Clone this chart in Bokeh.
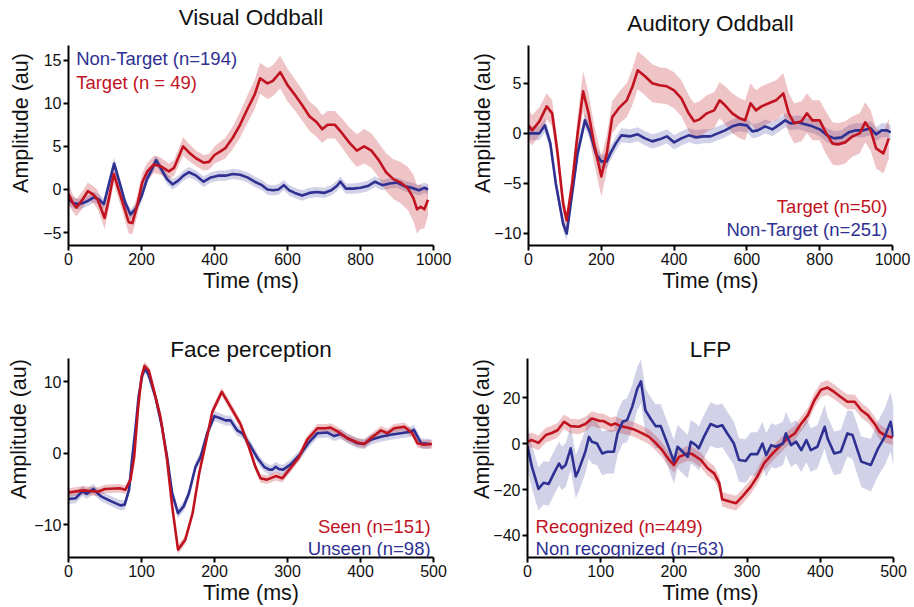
import numpy as np
from bokeh.plotting import figure
from bokeh.layouts import column, row
from bokeh.models import Range1d, FixedTicker, Label, CustomJSTickFormatter
from bokeh.embed import file_html
from bokeh.resources import INLINE

RED = "#c1121f"
BLUE = "#2e3192"
FONT = "Liberation Sans"

# ---------------- Visual Oddball ----------------
vo_target_t = [0, 12, 22, 38, 53, 68, 80, 99, 112, 124, 143, 165, 175, 188, 202, 216, 234, 252, 275, 289,
               314, 330, 350, 370, 385, 400, 415, 430, 450, 470, 490, 510, 525, 545, 560, 580, 600, 620, 640, 660,
               680, 695, 710, 730, 750, 770, 790, 810, 830, 850, 870, 890, 910, 930, 945, 955, 965, 975, 985]
vo_target_y = [-0.5, -1.6, -2.1, -1.2, -0.2, -0.6, -1.2, -3.3, -0.8, 1.8, -0.8, -3.8, -3.9, -1.9, 0.8, 2.1, 2.9, 2.7, 2.1, 2.5,
               5.0, 4.3, 3.6, 3.1, 3.2, 4.0, 4.4, 4.8, 6.0, 7.5, 9.3, 11.0, 12.9, 12.3, 12.6, 13.6, 12.1, 11.0, 9.8, 8.5,
               7.8, 7.0, 7.5, 7.5, 6.5, 5.4, 4.5, 5.0, 4.5, 3.4, 2.0, 1.2, 0.8, 0.1, -1.0, -2.3, -2.0, -2.3, -1.2]
vo_target_sem = [1.2, 1.0, 1.0, 1.0, 1.0, 1.0, 1.1, 1.3, 1.2, 1.1, 1.1, 1.3, 1.3, 1.2, 1.1, 1.0, 1.0, 1.0, 0.9, 0.9,
                 1.1, 1.0, 0.9, 0.9, 0.9, 1.0, 1.1, 1.2, 1.3, 1.5, 1.6, 1.7, 1.8, 1.8, 1.8, 1.9, 1.9, 1.8, 1.8, 1.7,
                 1.7, 1.6, 1.6, 1.6, 1.7, 1.8, 1.9, 2.0, 2.0, 2.0, 2.2, 2.3, 2.4, 2.5, 2.7, 2.8, 2.6, 2.2, 1.8]

vo_nontarget_t = [0, 15, 30, 50, 70, 85, 97, 110, 125, 140, 155, 170, 185, 200, 215, 228, 240, 255, 270, 285,
                  300, 315, 330, 350, 370, 390, 410, 430, 450, 470, 490, 510, 530, 545, 560, 575, 590, 605, 620, 640,
                  660, 680, 700, 720, 735, 745, 760, 780, 800, 820, 840, 860, 880, 900, 920, 940, 960, 975, 985]
vo_nontarget_y = [-1.2, -1.6, -1.7, -1.4, -0.9, -1.2, -1.7, 0.5, 3.0, 0.8, -1.5, -2.9, -2.2, -0.8, 1.2, 2.3, 3.4, 2.3, 1.2, 0.6,
                  1.0, 1.6, 2.0, 1.6, 0.9, 1.4, 1.6, 1.6, 1.8, 1.7, 1.4, 0.9, 0.5, 0.0, -0.1, 0.0, 0.5, -0.1, -0.4, -0.7,
                  -0.4, -0.3, -0.4, -0.1, 0.4, 0.9, 0.1, 0.1, 0.2, 0.4, 0.9, 0.5, 0.7, 0.8, 0.4, 0.2, -0.1, 0.2, 0.0]
vo_nontarget_sem = [0.7, 0.6, 0.6, 0.6, 0.6, 0.6, 0.6, 0.6, 0.7, 0.6, 0.6, 0.6, 0.6, 0.6, 0.6, 0.6, 0.6, 0.6, 0.6, 0.6,
                    0.6, 0.6, 0.6, 0.6, 0.6, 0.6, 0.6, 0.6, 0.6, 0.6, 0.6, 0.6, 0.6, 0.6, 0.6, 0.6, 0.6, 0.6, 0.6, 0.6,
                    0.6, 0.6, 0.6, 0.6, 0.6, 0.6, 0.6, 0.6, 0.6, 0.6, 0.6, 0.6, 0.6, 0.6, 0.6, 0.6, 0.6, 0.6, 0.6]

# ---------------- Auditory Oddball ----------------
ao_target_t = [0, 10, 30, 50, 65, 80, 95, 105, 120, 135, 150, 165, 180, 200, 215, 230, 250, 270, 285, 300,
               320, 340, 360, 380, 400, 420, 440, 455, 470, 490, 510, 525, 540, 560, 580, 595, 610, 625, 640, 660,
               680, 700, 715, 730, 750, 765, 780, 800, 815, 835, 850, 870, 890, 910, 925, 940, 955, 975, 990]
ao_target_y = [0.8, 0.3, 1.2, 2.7, 2.0, -2.0, -7.0, -8.7, -5.0, 0.0, 4.2, 2.0, -1.0, -4.3, -2.0, 1.6, 2.6, 3.3, 4.6, 6.3,
               5.7, 5.0, 4.8, 4.7, 4.3, 3.5, 2.0, 1.2, 1.4, 2.0, 2.3, 3.3, 2.8, 2.0, 1.5, 1.3, 3.0, 2.3, 2.7, 3.0,
               3.3, 4.0, 2.0, 1.0, 1.2, 2.0, 1.3, 1.3, 0.2, -1.0, -1.1, -0.9, -0.3, 0.0, 1.1, 0.3, -1.5, -2.0, -0.5]
ao_target_sem = [1.6, 1.5, 1.4, 1.3, 1.3, 1.2, 1.0, 0.9, 1.2, 1.6, 2.0, 2.0, 1.9, 2.0, 1.8, 1.6, 1.6, 1.7, 1.8, 1.9,
                 1.9, 1.9, 1.8, 1.8, 1.8, 1.8, 1.8, 1.8, 1.8, 1.8, 1.8, 1.8, 1.9, 2.0, 2.0, 2.0, 2.0, 2.0, 2.0, 2.0,
                 2.0, 2.0, 2.0, 2.0, 2.0, 2.0, 2.0, 2.0, 2.1, 2.1, 2.1, 2.1, 2.0, 2.0, 2.0, 2.0, 2.0, 2.0, 2.0]

ao_nontarget_t = [0, 30, 45, 60, 75, 95, 105, 120, 135, 155, 170, 185, 200, 215, 225, 240, 255, 280, 300, 320,
                  340, 360, 380, 400, 420, 440, 460, 480, 500, 520, 540, 560, 580, 600, 615, 630, 650, 670, 690, 705,
                  720, 740, 760, 780, 800, 820, 840, 860, 880, 900, 920, 940, 955, 970, 985, 995]
ao_nontarget_y = [0.0, 0.0, 0.8, -1.0, -5.0, -9.0, -10.0, -6.0, -2.0, 1.3, 0.0, -2.0, -2.8, -2.8, -2.0, -1.0, -0.2, -0.3, -0.1, -0.5,
                  -0.8, -0.6, -0.3, -0.9, -0.5, -0.2, -0.4, -0.3, -0.3, 0.0, 0.3, 0.7, 0.9, 0.8, 0.2, 0.3, 0.7, 0.4, 0.9, 1.3,
                  1.0, 1.1, 0.9, 0.7, 0.4, -0.2, -0.5, -0.4, 0.1, 0.3, 0.3, 0.5, -0.1, 0.3, 0.3, 0.1]
ao_nontarget_sem = [0.7, 0.7, 0.7, 0.7, 0.7, 0.7, 0.7, 0.7, 0.7, 0.7, 0.7, 0.7, 0.7, 0.7, 0.7, 0.7, 0.7, 0.7, 0.7, 0.7,
                    0.7, 0.7, 0.7, 0.7, 0.7, 0.7, 0.7, 0.7, 0.7, 0.7, 0.7, 0.7, 0.7, 0.7, 0.7, 0.7, 0.7, 0.7, 0.7, 0.7,
                    0.7, 0.7, 0.7, 0.7, 0.7, 0.7, 0.7, 0.7, 0.7, 0.7, 0.7, 0.7, 0.7, 0.7, 0.7, 0.7]

# ---------------- Face perception ----------------
fp_seen_t = [0, 20, 40, 50, 70, 78, 85, 90, 95, 100, 104, 110, 117, 126, 135, 142, 150, 160, 170, 179,
             188, 197, 210, 222, 236, 247, 256, 263, 272, 284, 293, 304, 316, 327, 341, 352, 359, 368, 382, 396,
             405, 414, 428, 437, 446, 460, 471, 478, 487, 498]
fp_seen_y = [-5.5, -5.2, -5.4, -5.0, -4.9, -5.1, -3.7, -0.5, 6.0, 10.7, 12.2, 11.6, 8.8, 5.1, -0.9, -7.4, -13.5, -12.1, -8.4, -2.8,
             1.4, 5.8, 8.6, 6.5, 4.0, 0.9, -1.9, -3.5, -3.7, -3.2, -3.5, -2.1, -0.5, 1.9, 3.5, 3.5, 3.6, 3.1, 2.1, 1.5,
             1.3, 2.1, 3.2, 2.8, 3.5, 3.7, 2.8, 1.4, 1.2, 1.3]
fp_seen_sem = [0.6, 0.6, 0.6, 0.6, 0.6, 0.6, 0.6, 0.6, 0.6, 0.6, 0.6, 0.6, 0.6, 0.6, 0.6, 0.6, 0.6, 0.6, 0.6, 0.6,
               0.6, 0.6, 0.6, 0.6, 0.6, 0.6, 0.6, 0.6, 0.6, 0.6, 0.6, 0.6, 0.6, 0.6, 0.6, 0.6, 0.6, 0.6, 0.6, 0.6,
               0.6, 0.6, 0.6, 0.6, 0.6, 0.6, 0.6, 0.6, 0.6, 0.6]

fp_unseen_t = [0, 10, 19, 25, 34, 44, 58, 71, 77, 83, 87, 92, 96, 101, 105, 110, 119, 128, 135, 142,
               150, 158, 165, 174, 181, 190, 200, 208, 215, 222, 231, 238, 250, 259, 268, 275, 279, 284, 288, 294,
               304, 318, 330, 341, 355, 364, 373, 382, 396, 405, 414, 428, 441, 455, 469, 473, 483, 496]
fp_unseen_y = [-6.4, -6.3, -5.3, -5.7, -5.0, -6.0, -6.7, -7.3, -7.2, -5.1, -0.9, 3.7, 7.9, 10.9, 11.9, 10.9, 7.9, 3.7, -0.5, -5.6,
               -8.4, -7.4, -5.6, -1.9, -0.5, 2.8, 5.2, 4.9, 4.6, 4.6, 3.2, 2.8, 0.9, -0.7, -1.9, -2.3, -2.3, -1.9, -2.2, -2.3,
               -1.6, -0.1, 1.6, 2.8, 2.9, 2.4, 2.7, 2.1, 1.4, 1.3, 1.9, 2.3, 2.6, 2.8, 3.0, 3.3, 1.4, 1.3]
fp_unseen_sem = [0.7, 0.7, 0.7, 0.7, 0.7, 0.7, 0.7, 0.7, 0.7, 0.7, 0.7, 0.7, 0.7, 0.7, 0.7, 0.7, 0.7, 0.7, 0.7, 0.7,
                 0.7, 0.7, 0.7, 0.7, 0.7, 0.7, 0.7, 0.7, 0.7, 0.7, 0.7, 0.7, 0.7, 0.7, 0.7, 0.7, 0.7, 0.7, 0.7, 0.7,
                 0.7, 0.7, 0.7, 0.7, 0.7, 0.7, 0.7, 0.7, 0.7, 0.7, 0.7, 0.7, 0.7, 0.7, 0.7, 0.7, 0.7, 0.7]

# ---------------- LFP ----------------
lfp_rec_t = [0, 6, 15, 25, 34, 41, 50, 59, 70, 79, 88, 98, 104, 114, 120, 127, 136, 146, 157, 166,
             175, 184, 193, 200, 207, 219, 225, 237, 246, 255, 262, 266, 276, 285, 294, 305, 314, 323, 335, 346,
             355, 365, 374, 383, 392, 401, 410, 419, 428, 437, 447, 456, 465, 474, 481, 488, 495, 499]
lfp_rec_y = [1.0, 1.6, 0.4, 3.8, 4.8, 5.9, 9.6, 7.7, 7.4, 8.6, 11.0, 10.0, 9.9, 8.1, 8.8, 7.7, 7.1, 6.2, 4.5, 3.0,
             0.4, -2.8, -6.8, -9.3, -5.7, -4.2, -4.5, -7.1, -10.7, -12.9, -17.2, -24.2, -25.2, -25.9, -22.8, -18.7, -14.3, -8.6, -4.2, -0.6,
             2.3, 4.5, 8.8, 12.5, 19.0, 23.6, 24.5, 22.6, 20.4, 18.3, 18.3, 14.6, 12.5, 8.8, 5.2, 3.8, 3.0, 2.8]
lfp_rec_sem = [3.2, 3.2, 3.2, 3.2, 3.2, 3.2, 3.2, 3.2, 3.2, 3.2, 3.2, 3.2, 3.2, 3.2, 3.2, 3.2, 3.2, 3.2, 3.2, 3.2,
               3.2, 3.2, 3.2, 3.2, 3.2, 3.2, 3.2, 3.2, 3.2, 3.2, 3.2, 3.2, 3.2, 3.2, 3.2, 3.2, 3.2, 3.2, 3.2, 3.2,
               3.2, 3.2, 3.2, 3.2, 3.2, 3.2, 3.2, 3.2, 3.2, 3.2, 3.2, 3.2, 3.2, 3.2, 3.2, 3.2, 3.2, 3.2]

lfp_nonrec_t = [0, 6, 15, 22, 29, 36, 43, 47, 52, 59, 66, 70, 79, 84, 88, 95, 102, 109, 118, 123,
                130, 136, 143, 150, 155, 161, 168, 175, 182, 191, 200, 205, 212, 219, 223, 230, 234, 241, 250, 259,
                266, 273, 282, 289, 298, 305, 314, 321, 326, 333, 339, 349, 353, 360, 367, 374, 381, 387, 396, 406,
                410, 419, 428, 437, 444, 456, 469, 479, 488, 496, 500]
lfp_nonrec_y = [-1.0, -10.0, -19.7, -17.0, -17.5, -12.9, -8.6, -10.7, -9.3, -2.0, -14.3, -11.4, -3.5, 3.0, 0.9, 0.1, -4.2, -3.5, -3.5, 4.5,
                9.6, 10.3, 16.1, 24.0, 27.2, 14.6, 11.0, 7.7, 7.7, 0.1, -7.8, -1.3, -3.5, -5.7, 0.9, -0.6, -2.0, 3.0, 8.6, 7.4,
                8.1, 4.5, 0.1, -7.1, -7.5, -4.5, -4.5, 0.1, -4.9, -0.6, -1.3, 0.1, 4.5, -0.6, 0.9, -2.8, 1.6, -2.8, -1.3, 7.4,
                2.3, -4.2, -3.5, 4.5, 3.8, -7.8, -9.3, -2.0, 3.0, 9.6, 3.0]
lfp_nonrec_sem = [10.0, 9.5, 9.5, 9.5, 9.5, 9.5, 9.5, 9.5, 9.5, 9.5, 9.5, 9.5, 9.5, 9.5, 9.5, 9.5, 9.5, 9.5, 9.5, 9.5,
                  9.5, 9.5, 9.5, 9.5, 9.5, 9.5, 9.5, 9.5, 9.5, 9.5, 9.5, 9.5, 9.5, 9.5, 9.5, 9.5, 9.5, 9.5, 9.5, 9.5,
                  9.5, 9.5, 9.5, 9.5, 9.5, 9.5, 9.5, 9.5, 9.5, 9.5, 9.5, 9.5, 9.5, 9.5, 9.5, 9.5, 9.5, 9.5, 9.5, 9.5,
                  9.5, 9.5, 9.5, 10.0, 10.5, 11.0, 11.5, 12.0, 12.5, 13.0, 13.0]

TICK_FMT = CustomJSTickFormatter(code="return tick < 0 ? '\\u2212' + Math.abs(tick) : String(tick);")


def make_panel(w, h, xr, yr, ybounds, xticks, yticks, bl, br, bb, ylab_standoff):
    # the frame runs to the top edge; the y spine is limited to the data bounds,
    # so the panel title can sit inside the frame above the spine
    p = figure(width=w, height=h, x_range=Range1d(*xr), y_range=Range1d(*yr),
               output_backend="svg", toolbar_location=None,
               min_border_left=bl, min_border_right=br, min_border_top=0, min_border_bottom=bb)
    p.outline_line_color = None
    p.grid.visible = False
    p.background_fill_color = "white"
    p.border_fill_color = "white"
    for ax in (p.xaxis[0], p.yaxis[0]):
        ax.axis_line_width = 2
        ax.axis_line_color = "black"
        ax.major_tick_line_width = 2
        ax.major_tick_line_color = "black"
        ax.major_tick_out = 5
        ax.major_tick_in = 0
        ax.minor_tick_line_color = None
        ax.major_label_text_font = FONT
        ax.major_label_text_font_size = "16px"
        ax.major_label_text_color = "#111111"
        ax.major_label_standoff = 2
        ax.axis_label_text_font = FONT
        ax.axis_label_text_font_size = "21.5px"
        ax.axis_label_text_font_style = "normal"
        ax.axis_label_text_color = "#111111"
        ax.formatter = TICK_FMT
    p.xaxis[0].ticker = FixedTicker(ticks=xticks)
    p.yaxis[0].ticker = FixedTicker(ticks=yticks)
    p.yaxis[0].bounds = ybounds
    p.xaxis[0].axis_label = "Time (ms)"
    p.yaxis[0].axis_label = "Amplitude (au)"
    p.xaxis[0].axis_label_standoff = 1
    p.yaxis[0].axis_label_standoff = ylab_standoff
    return p


def add_title(p, x, y, text):
    p.add_layout(Label(x=x, y=y, text=text, text_color="#111111", text_font=FONT,
                       text_font_size="22.5px", text_align="center", text_baseline="middle"))


def add_series(p, t, y, sem, color, alpha):
    t = np.asarray(t, float)
    y = np.asarray(y, float)
    s = np.asarray(sem, float)
    p.varea(x=t, y1=y - s, y2=y + s, fill_color=color, fill_alpha=alpha)
    return t, y


def add_line(p, t, y, color):
    p.line(x=t, y=y, line_color=color, line_width=2.6, line_join="round")


def add_text(p, x, y, text, color, align):
    p.add_layout(Label(x=x, y=y, text=text, text_color=color, text_font=FONT,
                       text_font_size="18.5px", text_align=align, text_baseline="middle"))


# Panel 1
p1 = make_panel(457, 300, (0, 1000), (-6.5, 21.92), (-6.5, 16.7), [0, 200, 400, 600, 800, 1000],
                [-5, 0, 5, 10, 15], 68, 24, 54, 7)
add_title(p1, 500, 19.94, "Visual Oddball")
a = add_series(p1, vo_nontarget_t, vo_nontarget_y, vo_nontarget_sem, BLUE, 0.22)
b = add_series(p1, vo_target_t, vo_target_y, vo_target_sem, RED, 0.25)
add_line(p1, *a, BLUE)
add_line(p1, *b, RED)
add_text(p1, 21, 15.25, "Non-Target (n=194)", BLUE, "left")
add_text(p1, 21, 12.44, "Target (n = 49)", RED, "left")

# Panel 2
p2 = make_panel(457, 300, (0, 1000), (-11.2, 13.27), (-11.2, 8.8), [0, 200, 400, 600, 800, 1000],
                [-10, -5, 0, 5], 71, 22, 55, -4)
add_title(p2, 500, 10.97, "Auditory Oddball")
a = add_series(p2, ao_nontarget_t, ao_nontarget_y, ao_nontarget_sem, BLUE, 0.22)
b = add_series(p2, ao_target_t, ao_target_y, ao_target_sem, RED, 0.25)
add_line(p2, *a, BLUE)
add_line(p2, *b, RED)
add_text(p2, 986, -7.3, "Target (n=50)", RED, "right")
add_text(p2, 986, -9.58, "Non-Target (n=251)", BLUE, "right")

# Panel 3
p3 = make_panel(457, 307, (0, 500), (-14.6, 21.39), (-14.6, 13.3), [0, 100, 200, 300, 400, 500],
                [-10, 0, 10], 68, 24, 49, 0)
add_title(p3, 250, 14.53, "Face perception")
a = add_series(p3, fp_unseen_t, fp_unseen_y, fp_unseen_sem, BLUE, 0.22)
b = add_series(p3, fp_seen_t, fp_seen_y, fp_seen_sem, RED, 0.25)
add_line(p3, *a, BLUE)
add_line(p3, *b, RED)
add_text(p3, 496, -10.22, "Seen (n=151)", RED, "right")
add_text(p3, 496, -13.29, "Unseen (n=98)", BLUE, "right")

# Panel 4
p4 = make_panel(457, 307, (0, 500), (-49.6, 62.48), (-49.6, 37.1), [0, 100, 200, 300, 400, 500],
                [-40, -20, 0, 20], 70, 21, 49, -4)
add_title(p4, 250, 41.09, "LFP")
a = add_series(p4, lfp_nonrec_t, lfp_nonrec_y, lfp_nonrec_sem, BLUE, 0.22)
b = add_series(p4, lfp_rec_t, lfp_rec_y, lfp_rec_sem, RED, 0.25)
add_line(p4, *b, RED)
add_line(p4, *a, BLUE)
add_text(p4, 11, -36.2, "Recognized (n=449)", RED, "left")
add_text(p4, 11, -45.7, "Non recognized (n=63)", BLUE, "left")

layout = column(row(p1, p2), row(p3, p4))
open("out.html", "w").write(file_html(layout, INLINE))
